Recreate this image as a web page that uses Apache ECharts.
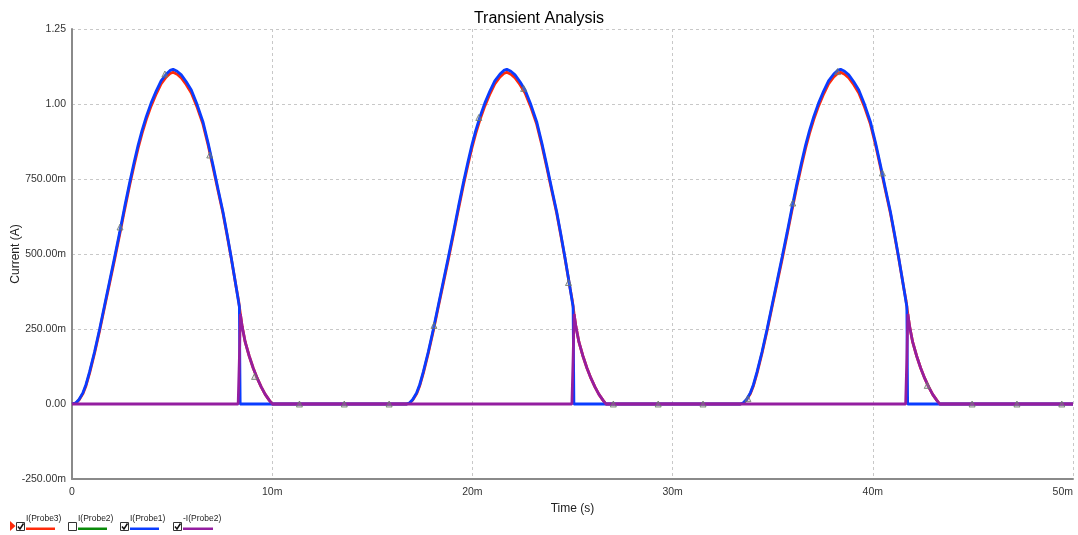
<!DOCTYPE html>
<html>
<head>
<meta charset="utf-8">
<script src="https://cdn.jsdelivr.net/npm/echarts@6/dist/echarts.min.js"></script>
<style>
html,body{margin:0;padding:0;background:#fff;}
#chart{width:1078px;height:535px;}
</style>
</head>
<body>
<div id="chart"></div>
<script>
// ---- data (time in ms, current in A) ----
const pulseStartMs = [0.05, 16.72, 33.39];
// relative time within one conduction pulse (ms)
const pulseTimeMs = [0, 0.15, 0.3, 0.5, 0.65, 0.83, 1.08, 1.33, 1.58, 1.83, 2.08, 2.33, 2.58, 2.83, 3.05, 3.25, 3.45, 3.66, 3.9, 4.16, 4.4, 4.66, 4.85, 5.0, 5.2, 5.41, 5.65, 5.91, 6.2, 6.49, 6.75, 6.99, 7.25, 7.49, 7.7, 7.91, 8.05, 8.16, 8.27, 8.31];
const probe1Pulse = [0, 0.004, 0.015, 0.038, 0.065, 0.108, 0.175, 0.25, 0.33, 0.41, 0.49, 0.572, 0.657, 0.738, 0.805, 0.862, 0.912, 0.958, 1.003, 1.044, 1.077, 1.1, 1.112, 1.116, 1.109, 1.097, 1.075, 1.047, 0.998, 0.941, 0.87, 0.797, 0.715, 0.641, 0.565, 0.486, 0.43, 0.386, 0.34, 0.325];
const probe3Pulse = [0, 0.003, 0.013, 0.035, 0.061, 0.103, 0.17, 0.244, 0.324, 0.403, 0.482, 0.564, 0.648, 0.729, 0.795, 0.852, 0.902, 0.948, 0.993, 1.034, 1.067, 1.09, 1.102, 1.106, 1.099, 1.087, 1.065, 1.037, 0.989, 0.933, 0.863, 0.79, 0.709, 0.636, 0.561, 0.483, 0.428, 0.385, 0.345, 0.34];
const probe1DropMs = 8.35;
// diode-current tail after the switch-off (relative ms)
const tailTimeMs = [8.25, 8.31, 8.36, 8.45, 8.6, 8.8, 9.0, 9.2, 9.4, 9.6, 9.8, 9.95];
const probe2NegTail = [0, 0.15, 0.3, 0.258, 0.207, 0.16, 0.12, 0.086, 0.057, 0.032, 0.013, 0];
const probe3Tail = [null, null, 0.3, 0.258, 0.207, 0.16, 0.12, 0.086, 0.057, 0.032, 0.013, 0];
const endMs = 50;
// marker triangles on I(Probe3)
const markerTimeMs = [2.4, 4.64, 6.88, 9.12, 11.36, 13.6, 15.84, 18.08, 20.32, 22.56, 24.8, 27.04, 29.28, 31.52, 33.76, 36.0, 38.24, 40.48, 42.72, 44.96, 47.2, 49.44];
const markerValue = [0.59, 1.1, 0.83, 0.092, 0, 0, 0, 0.262, 0.955, 1.052, 0.405, 0, 0, 0, 0.018, 0.67, 1.108, 0.77, 0.062, 0, 0, 0];
// axes
const yTickValues = [-0.25, 0, 0.25, 0.5, 0.75, 1.0, 1.25];
const yTickLabels = ['-250.00m', '0.00', '250.00m', '500.00m', '750.00m', '1.00', '1.25'];
const xTickValues = [0, 10, 20, 30, 40, 50];
const xTickLabels = ['0', '10m', '20m', '30m', '40m', '50m'];
const legendNames = ['I(Probe3)', 'I(Probe2)', 'I(Probe1)', '-I(Probe2)'];
const legendChecked = [true, false, true, true];
const colors = { probe3: '#ff2a0a', probe2: '#0a8a0a', probe1: '#0a3cff', negProbe2: '#941ea0' };

// ---- build series data ----
function r(v) { return Math.round(v * 1000) / 1000; }
const probe1Data = [[0, 0]];
const probe3Data = [[0, 0]];
const negProbe2Data = [[0, 0]];
pulseStartMs.forEach(function (s) {
  pulseTimeMs.forEach(function (t, i) {
    probe1Data.push([r(s + t), probe1Pulse[i]]);
    probe3Data.push([r(s + t), probe3Pulse[i]]);
  });
  probe1Data.push([r(s + probe1DropMs), 0]);
  tailTimeMs.forEach(function (t, i) {
    negProbe2Data.push([r(s + t), probe2NegTail[i]]);
    if (probe3Tail[i] !== null) probe3Data.push([r(s + t), probe3Tail[i]]);
  });
});
probe1Data.push([endMs, 0]);
probe3Data.push([endMs, 0]);
negProbe2Data.push([endMs, 0]);
const markerData = markerTimeMs.map(function (t, i) { return [t, markerValue[i]]; });

// ---- legend graphics ----
const legendX = [16, 68, 120, 173];
const legendColors = [colors.probe3, colors.probe2, colors.probe1, colors.negProbe2];
const legendLineW = [29, 29, 29, 30];
const graphics = [];
graphics.push({ type: 'polygon', shape: { points: [[10, 521], [10, 531], [15.5, 526]] }, style: { fill: '#ff2a0a' } });
legendX.forEach(function (x, i) {
  graphics.push({ type: 'rect', shape: { x: x + 0.5, y: 522.5, width: 8, height: 8 }, style: { fill: '#fff', stroke: '#333', lineWidth: 1 } });
  if (legendChecked[i]) {
    graphics.push({ type: 'polyline', shape: { points: [[x + 2, 526.5], [x + 4, 529], [x + 7.5, 523.5]] }, style: { stroke: '#111', lineWidth: 1.5, fill: null } });
  }
  graphics.push({ type: 'text', x: x + 10, y: 514, style: { text: legendNames[i], fontSize: 8.5, fontFamily: 'Liberation Sans, Arial, sans-serif', fill: '#222' } });
  graphics.push({ type: 'rect', shape: { x: x + 10, y: 527.5, width: legendLineW[i], height: 2.5 }, style: { fill: legendColors[i] } });
});

const fontFam = 'Liberation Sans, Arial, sans-serif';
const chart = echarts.init(document.getElementById('chart'));
chart.setOption({
  animation: false,
  backgroundColor: '#fff',
  title: {
    text: 'Transient Analysis', left: 'center', top: 6,
    textStyle: { fontSize: 16, fontWeight: 'normal', color: '#000', fontFamily: fontFam }
  },
  grid: { left: 72, right: 5, top: 29, bottom: 56, containLabel: false, outerBoundsMode: 'none' },
  xAxis: {
    type: 'value', min: 0, max: 50, interval: 10,
    name: 'Time (s)', nameLocation: 'middle', nameGap: 24, nameMoveOverlap: false,
    nameTextStyle: { fontSize: 12, color: '#222', fontFamily: fontFam },
    axisLine: { onZero: false, lineStyle: { color: '#8a8a8a', width: 2 } },
    axisTick: { show: false },
    axisLabel: {
      color: '#333', fontSize: 10.5, fontFamily: fontFam, margin: 8, alignMaxLabel: 'right',
      formatter: function (v) { const i = xTickValues.indexOf(v); return i >= 0 ? xTickLabels[i] : ''; }
    },
    splitLine: { show: true, lineStyle: { color: '#c8c8c8', type: [3, 3], width: 1 } }
  },
  yAxis: {
    type: 'value', min: -0.25, max: 1.25, interval: 0.25,
    name: 'Current (A)', nameLocation: 'middle', nameGap: 50, nameRotate: 90, nameMoveOverlap: false,
    nameTextStyle: { fontSize: 12, color: '#222', fontFamily: fontFam },
    axisLine: { show: true, onZero: false, lineStyle: { color: '#8a8a8a', width: 2 } },
    axisTick: { show: false },
    axisLabel: {
      color: '#333', fontSize: 10.5, fontFamily: fontFam, margin: 6,
      formatter: function (v) {
        for (let i = 0; i < yTickValues.length; i++) if (Math.abs(yTickValues[i] - v) < 1e-9) return yTickLabels[i];
        return '';
      }
    },
    splitLine: { show: true, lineStyle: { color: '#c8c8c8', type: [3, 3], width: 1 } }
  },
  series: [
    { name: 'I(Probe3)', type: 'line', data: probe3Data, showSymbol: false, z: 2,
      lineStyle: { color: colors.probe3, width: 2.8 }, itemStyle: { color: colors.probe3 } },
    { name: 'I(Probe1)', type: 'line', data: probe1Data, showSymbol: false, z: 3,
      lineStyle: { color: colors.probe1, width: 2.8 }, itemStyle: { color: colors.probe1 } },
    { name: '-I(Probe2)', type: 'line', data: negProbe2Data, showSymbol: false, z: 4,
      lineStyle: { color: colors.negProbe2, width: 2.8 }, itemStyle: { color: colors.negProbe2 } },
    { name: 'markers', type: 'scatter', data: markerData, symbol: 'triangle', symbolSize: 6, z: 5,
      itemStyle: { color: 'rgba(150,160,150,0.35)', borderColor: '#6a786a', borderWidth: 1 } }
  ],
  graphic: graphics
});
</script>
</body>
</html>
